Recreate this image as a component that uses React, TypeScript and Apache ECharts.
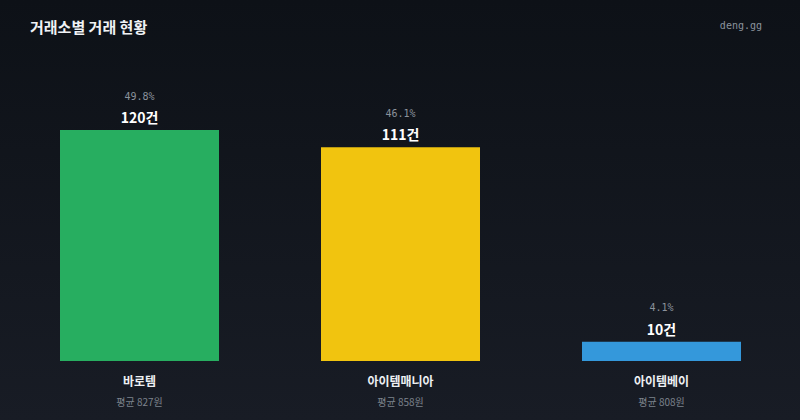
import React, { useRef, useEffect } from 'react';
import * as echarts from 'echarts';

// Exchanges and their trade counts
const exchanges = ['바로템', '아이템매니아', '아이템베이'];
const tradeCounts = [120, 111, 10];
const shares = ['49.8%', '46.1%', '4.1%'];
const avgPrices = ['평균 827원', '평균 858원', '평균 808원'];
const barColors = ['#27ae60', '#f1c40f', '#3498db'];

const KR_FONT = '"Noto Sans CJK KR", "Noto Sans", sans-serif';
const MONO_FONT = '"DejaVu Sans Mono", monospace';

const App: React.FC = () => {
  const chartRef = useRef<HTMLDivElement>(null);

  useEffect(() => {
    if (!chartRef.current) return;
    const chart = echarts.init(chartRef.current, undefined, { renderer: 'svg' });

    const seriesData = tradeCounts.map((value, i) => ({
      value,
      itemStyle: { color: barColors[i] },
    }));

    const options: echarts.EChartsOption = {
      animation: false,
      backgroundColor: 'transparent',
      textStyle: { fontFamily: KR_FONT },
      title: [
        {
          text: '거래소별 거래 현황',
          left: 25,
          top: 14,
          textStyle: {
            color: '#f0f2f5',
            fontSize: 15,
            fontWeight: 'bold',
            fontFamily: KR_FONT,
          },
        },
        {
          text: 'deng.gg',
          right: 33,
          top: 15,
          textStyle: {
            color: '#8b929c',
            fontSize: 10,
            fontWeight: 'normal',
            fontFamily: MONO_FONT,
          },
        },
      ],
      grid: { left: 9, right: 8, top: 130, bottom: 59 },
      xAxis: {
        type: 'category',
        data: exchanges,
        axisLine: { show: false },
        axisTick: { show: false },
        axisLabel: {
          margin: 9,
          interval: 0,
          formatter: (name: string, idx: number) =>
            `{n|${name}}\n{a|${avgPrices[idx]}}`,
          rich: {
            n: {
              color: '#eef0f3',
              fontSize: 12,
              fontWeight: 'bold',
              lineHeight: 20,
              fontFamily: KR_FONT,
            },
            a: {
              color: '#7d838c',
              fontSize: 10,
              lineHeight: 22,
              fontFamily: KR_FONT,
            },
          },
        },
      },
      yAxis: {
        type: 'value',
        min: 0,
        max: 120,
        show: false,
        splitLine: { show: false },
      },
      series: [
        {
          type: 'bar',
          barWidth: 159,
          data: seriesData,
          label: {
            show: true,
            position: 'top',
            distance: 4,
            formatter: (p: any) => `{p|${shares[p.dataIndex]}}\n{v|${p.value}건}`,
            rich: {
              p: {
                color: '#8b929c',
                fontSize: 10,
                lineHeight: 24,
                fontFamily: MONO_FONT,
              },
              v: {
                color: '#ffffff',
                fontSize: 14,
                fontWeight: 'bold',
                lineHeight: 18,
                fontFamily: KR_FONT,
              },
            },
          },
        },
      ],
    };

    chart.setOption(options);
    return () => {
      chart.dispose();
    };
  }, []);

  return (
    <div
      style={{
        position: 'fixed',
        left: 0,
        top: 0,
        width: 800,
        height: 420,
        background: 'linear-gradient(180deg, #0d1117 0%, #181c25 100%)',
      }}
    >
      <div ref={chartRef} style={{ width: '100%', height: '100%' }} />
    </div>
  );
};

export default App;
